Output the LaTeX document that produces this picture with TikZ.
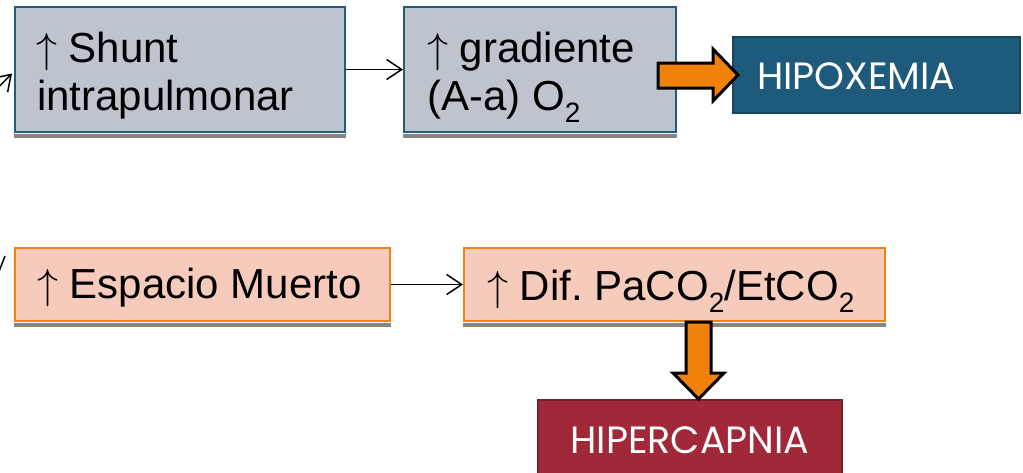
\documentclass[tikz,border=0pt]{standalone}
\usepackage{graphicx}
\usepackage{fontspec}
\setmainfont{Liberation Sans}
\newfontfamily\capsfont{Poppins}
\usetikzlibrary{arrows.meta,calc}
\frenchspacing
\definecolor{grayfill}{RGB}{190,196,206}
\definecolor{boxblue}{RGB}{33,94,126}
\definecolor{hipofill}{RGB}{30,90,123}
\definecolor{hipoline}{RGB}{22,70,96}
\definecolor{pinkfill}{RGB}{247,203,188}
\definecolor{orangeline}{RGB}{240,130,15}
\definecolor{arroworange}{RGB}{240,130,10}
\definecolor{hiperfill}{RGB}{161,40,56}
\definecolor{hiperline}{RGB}{123,30,43}
\newcommand{\subtwo}{\raisebox{-12pt}{\fontsize{28}{28}\selectfont 2}}
\newcommand{\uparr}{\scalebox{4.2}{\fontsize{10}{12}\selectfont$\uparrow$}}
\begin{document}
\begin{tikzpicture}[x=1pt,y=-1pt,
  graybox/.style={draw=boxblue, line width=2pt, fill=grayfill, rectangle, inner sep=0pt},
  pinkbox/.style={draw=orangeline, line width=2pt, fill=pinkfill, rectangle, inner sep=0pt},
  hipobox/.style={draw=hipoline, line width=2.5pt, fill=hipofill, rectangle, inner sep=0pt},
  hiperbox/.style={draw=hiperline, line width=2.5pt, fill=hiperfill, rectangle, inner sep=0pt},
  lbl/.style={anchor=base west, inner sep=0pt, font=\fontsize{42}{48}\selectfont},
  caplbl/.style={inner sep=0pt, text=white, font=\capsfont\fontsize{38}{44}\selectfont},
  conn/.style={line width=1.5pt, -{Straight Barb[length=15pt,width=20pt,line width=1.5pt]}},
  boxshadow/.style={fill=black!48, draw=none},
  blockarrow/.style={fill=arroworange, draw=black, line width=3pt, line join=miter}
]
\useasboundingbox (0,0) rectangle (1023,472);

% boxes
\node[graybox, minimum width=330pt, minimum height=125pt] (b1) at (180,69.5) {};
\node[graybox, minimum width=272pt, minimum height=125pt] (b2) at (540,69.5) {};
\node[hipobox, minimum width=287pt, minimum height=76pt] (hipo) at (876.5,75) {};
\node[pinkbox, minimum width=375pt, minimum height=73pt] (b3) at (202.5,284.5) {};
\node[pinkbox, minimum width=421pt, minimum height=73pt] (b4) at (674.5,284.5) {};
\node[hiperbox, minimum width=304pt, minimum height=80pt] (hiper) at (690,440) {};

% shadows
\foreach \b in {b1,b2,b3,b4}
  \fill[boxshadow] ($(\b.south west)+(0,1)$) rectangle ($(\b.south east)+(0,5)$);

% labels
\node[lbl] (t1a) at (36,62) {\uparr{} Shunt};
\node[lbl] (t1b) at (37,110) {intrapulmonar};
\node[lbl] (t2a) at (427,62) {\uparr{} gradiente};
\node[lbl] (t2b) at (427,110) {(A-a) O\subtwo};
\node[lbl] (t3) at (37,298) {\uparr{} Espacio Muerto};
\node[lbl] (t4) at (487,300) {\uparr{} Dif.\ PaCO\subtwo/EtCO\subtwo};
\node[caplbl, anchor=base west] (t5) at (757,89) {HIPOXEMIA};
\node[caplbl, anchor=base] (t6) at (690,453) {HIPERCAPNIA};

% connectors
\draw[conn] (b1.east) -- (b2.west);
\draw[conn] (b3.east) -- (b4.west);
\coordinate (in1) at (-22,108);
\coordinate (in1end) at ($(b1.west)+(-2,4)$);
\draw[conn] (in1) -- (in1end);
\coordinate (f1) at (-2,274);
\coordinate (f2) at (5,256);
\draw[line width=1.5pt] (f1) -- (f2);

% block arrows
\draw[blockarrow] (658,63) -- (713,63) -- (713,49) -- (738,75) -- (713,101) -- (713,88) -- (658,88) -- cycle;
\draw[blockarrow] (686,322) -- (711,322) -- (711,373) -- (724,373) -- (698.5,399) -- (673,373) -- (686,373) -- cycle;
\end{tikzpicture}
\end{document}
